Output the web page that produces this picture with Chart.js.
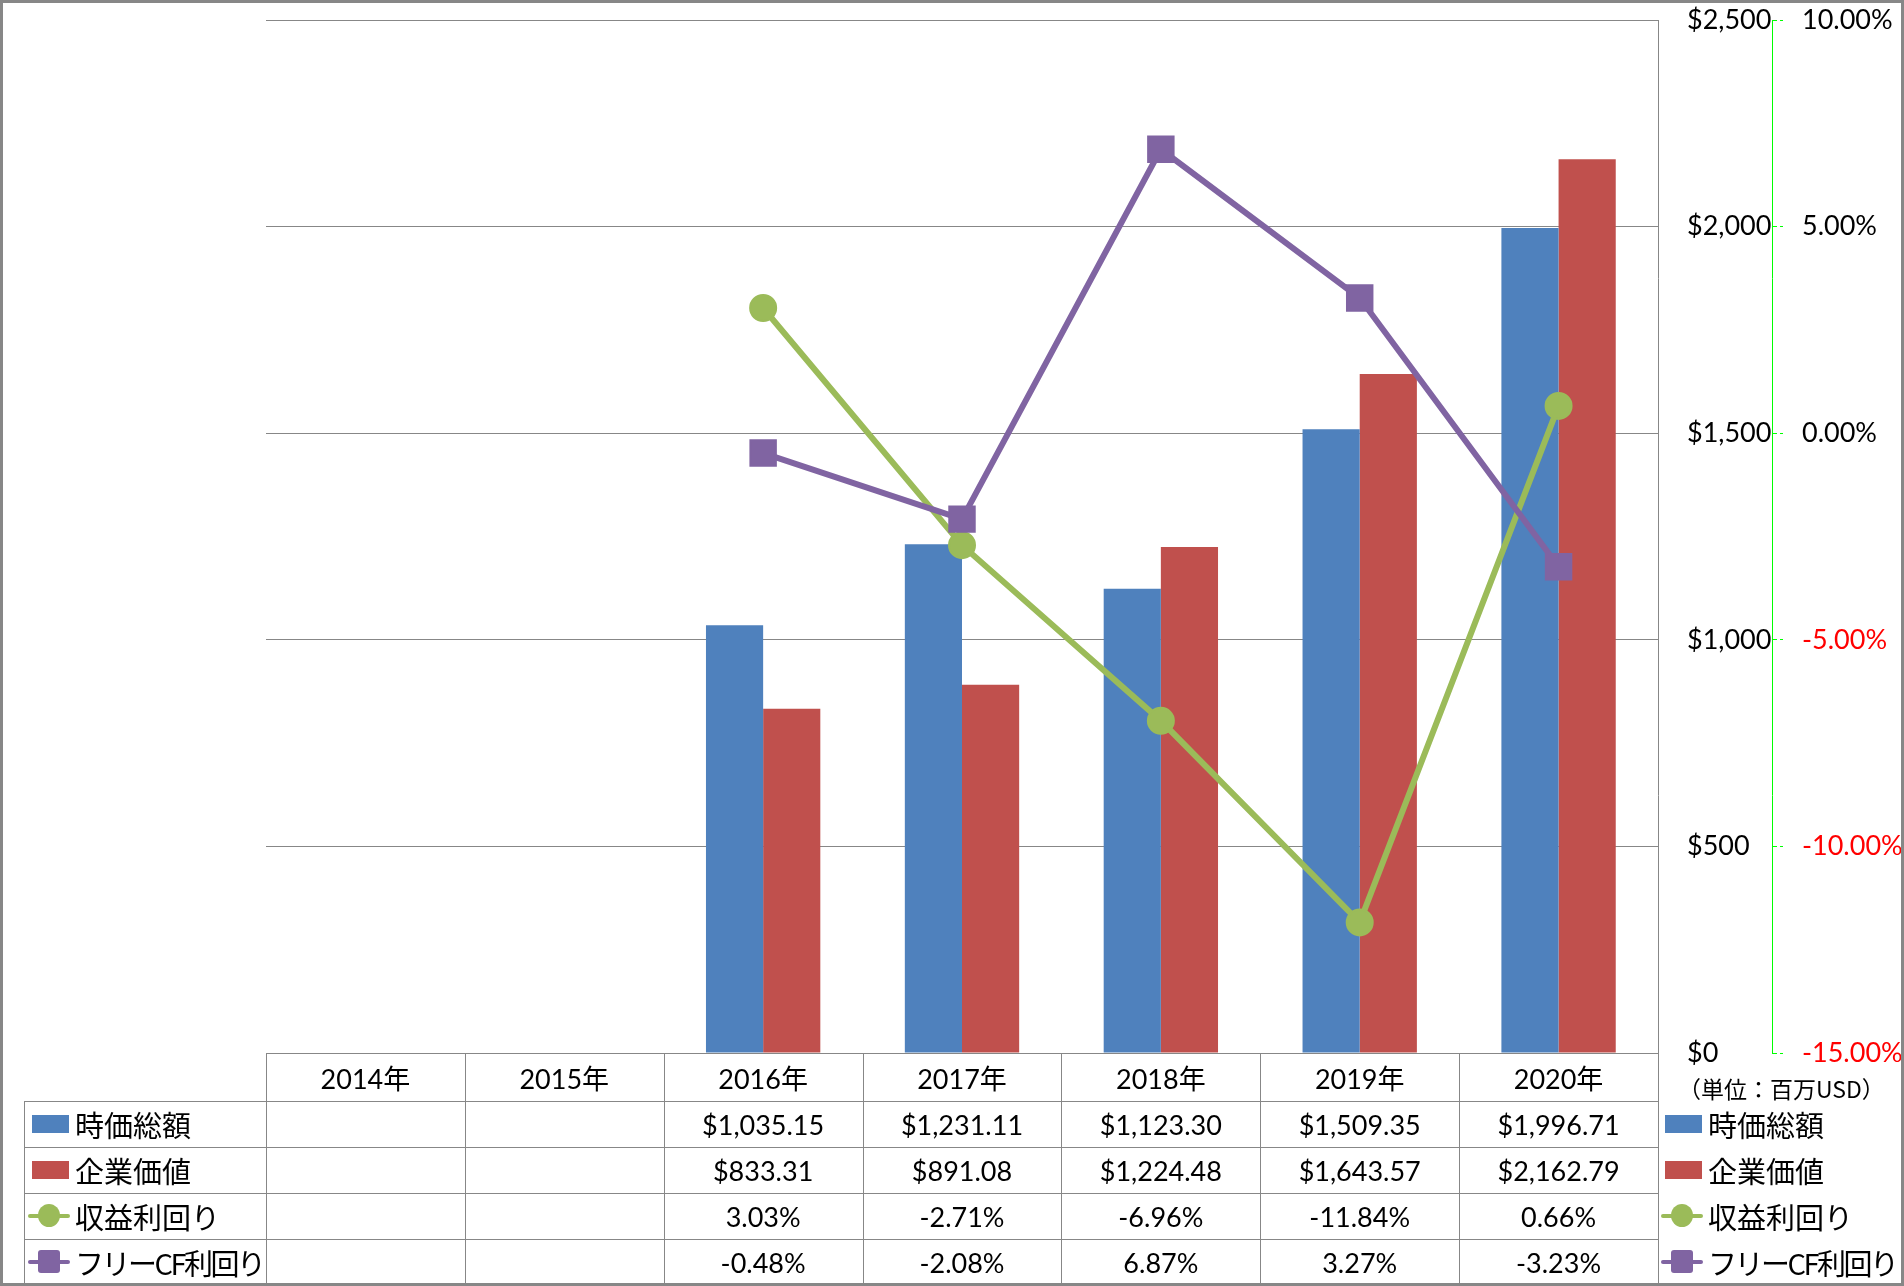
<!DOCTYPE html>
<html lang="ja">
<head>
<meta charset="utf-8">
<title>時価総額・企業価値・利回り</title>
<script src="https://cdn.jsdelivr.net/npm/chart.js@4.4.1/dist/chart.umd.min.js"></script>
<style>
  body { margin: 0; background: #fff; }
  #wrap { position: relative; width: 1904px; height: 1286px; overflow: hidden; font-family: Lato, "Noto Sans CJK JP", sans-serif; }
  #frame { position: absolute; left: 0; top: 0; width: 1904px; height: 1286px; box-sizing: border-box; border: 3px solid #878787; pointer-events: none; }
  canvas { position: absolute; left: 0; top: 0; }
  .ln { position: absolute; background: #878787; }
  .cell { position: absolute; display: flex; align-items: center; justify-content: center; font-size: 27px; color: #000; white-space: nowrap; }
  .lg { position: absolute; display: flex; align-items: center; font-family: "Noto Sans CJK JP", sans-serif; font-size: 29px; color: #000; white-space: nowrap; }
  .unit { position: absolute; font-family: "Noto Sans CJK JP", sans-serif; font-size: 23px; color: #000; white-space: nowrap; }
</style>
</head>
<body>
<div id="wrap">
  <canvas id="chart" width="1904" height="1286"></canvas>
  <div id="table"></div>
  <div id="frame"></div>
</div>
<script>
// data (null = no value that year)
const years = ["2014年", "2015年", "2016年", "2017年", "2018年", "2019年", "2020年"];
const marketCap = [null, null, 1035.15, 1231.11, 1123.30, 1509.35, 1996.71];
const enterpriseValue = [null, null, 833.31, 891.08, 1224.48, 1643.57, 2162.79];
const earningsYield = [null, null, 3.03, -2.71, -6.96, -11.84, 0.66];
const fcfYield = [null, null, -0.48, -2.08, 6.87, 3.27, -3.23];
const seriesNames = ["時価総額", "企業価値", "収益利回り", "フリーCF利回り"];
const usdTicks = [0, 500, 1000, 1500, 2000, 2500];
const pctTicks = [-15, -10, -5, 0, 5, 10];
const unitLabel = "（単位：百万USD）";

const colors = ["#4F81BD", "#C0504D", "#9BBB59", "#8064A2"];
const gridGray = "#878787";
const tickFont = { family: "Lato, 'Noto Sans CJK JP', sans-serif", size: 27 };

const money = (v) => "$" + v.toLocaleString("en-US", { minimumFractionDigits: 2, maximumFractionDigits: 2 });
const pct = (v) => v.toFixed(2) + "%";

// keep the axis label padding from pushing the plot down
const fitRight = (w) => (s) => { s.width = w; s.paddingTop = 0; s.paddingBottom = 0; };

const ctx = document.getElementById("chart").getContext("2d");
const chart = new Chart(ctx, {
  type: "bar",
  data: {
    labels: years,
    datasets: [
      {
        type: "line", label: seriesNames[3], data: fcfYield, yAxisID: "y1", order: 0,
        borderColor: colors[3], backgroundColor: colors[3], borderWidth: 6,
        pointStyle: "rect", pointRadius: 18, pointBorderWidth: 2,
        pointBackgroundColor: colors[3], pointBorderColor: colors[3], tension: 0,
      },
      {
        type: "line", label: seriesNames[2], data: earningsYield, yAxisID: "y1", order: 1,
        borderColor: colors[2], backgroundColor: colors[2], borderWidth: 6,
        pointStyle: "circle", pointRadius: 13, pointBorderWidth: 2,
        pointBackgroundColor: colors[2], pointBorderColor: colors[2], tension: 0,
      },
      {
        label: seriesNames[0], data: marketCap, yAxisID: "y", order: 2,
        backgroundColor: colors[0], categoryPercentage: 0.575, barPercentage: 1.0,
      },
      {
        label: seriesNames[1], data: enterpriseValue, yAxisID: "y", order: 2,
        backgroundColor: colors[1], categoryPercentage: 0.575, barPercentage: 1.0,
      },
    ],
  },
  options: {
    responsive: false,
    animation: false,
    devicePixelRatio: 1,
    layout: { padding: { left: 266, top: 19, right: 3, bottom: 233 } },
    plugins: { legend: { display: false }, tooltip: { enabled: false } },
    scales: {
      x: { display: false, offset: true, grid: { display: false } },
      y: {
        position: "right", weight: 0, min: 0, max: 2500,
        afterBuildTicks: (s) => { s.ticks = usdTicks.map((v) => ({ value: v })); },
        afterFit: fitRight(114),
        grid: { color: gridGray, lineWidth: 1, drawTicks: false },
        border: { display: true, color: gridGray, width: 1 },
        ticks: {
          crossAlign: "near", padding: 29, color: "#000", font: tickFont,
          callback: (v) => "$" + v.toLocaleString("en-US"),
        },
      },
      y1: {
        position: "right", weight: 1, min: -15, max: 10,
        afterBuildTicks: (s) => { s.ticks = pctTicks.map((v) => ({ value: v })); },
        afterFit: fitRight(129),
        grid: { drawOnChartArea: false, drawTicks: true, tickLength: 11, color: "#00FF00", tickBorderDash: [4, 3] },
        border: { display: true, color: "#00FF00", width: 1, dash: [4, 3] },
        ticks: {
          crossAlign: "near", padding: 19, font: tickFont,
          color: (c) => (c.tick && c.tick.value < 0 ? "#FF0000" : "#000"),
          callback: (v) => v.toFixed(2) + "%",
        },
      },
    },
  },
});

// data table under the plot, aligned to the category scale
const table = document.getElementById("table");
const area = chart.chartArea;
const colW = (area.right - area.left) / years.length;
const headTop = area.bottom;
const headH = 48;
const rowH = 46;
const labelLeft = 24;
const rows = [marketCap.map((v) => (v == null ? "" : money(v))),
              enterpriseValue.map((v) => (v == null ? "" : money(v))),
              earningsYield.map((v) => (v == null ? "" : pct(v))),
              fcfYield.map((v) => (v == null ? "" : pct(v)))];

function addLine(x, y, w, h) {
  const d = document.createElement("div");
  d.className = "ln";
  d.style.left = x + "px"; d.style.top = y + "px";
  d.style.width = w + "px"; d.style.height = h + "px";
  table.appendChild(d);
}
function addCell(x, y, w, h, text) {
  const d = document.createElement("div");
  d.className = "cell";
  d.style.left = x + "px"; d.style.top = y + "px";
  d.style.width = w + "px"; d.style.height = h + "px";
  d.textContent = text;
  table.appendChild(d);
}
function addLegend(x, yc, i) {
  const d = document.createElement("div");
  d.className = "lg";
  d.style.left = x + "px"; d.style.top = (yc - 20) + "px"; d.style.height = "40px";
  const key = document.createElement("div");
  key.style.position = "relative"; key.style.width = "42px"; key.style.height = "26px"; key.style.marginRight = "5px";
  if (i < 2) {
    const sw = document.createElement("div");
    sw.style.cssText = "position:absolute;left:4px;top:4px;width:37px;height:18px;background:" + colors[i];
    key.appendChild(sw);
  } else {
    const line = document.createElement("div");
    line.style.cssText = "position:absolute;left:0;top:11px;width:42px;height:4px;border-radius:2px;background:" + colors[i];
    const mk = document.createElement("div");
    const r = i === 2 ? "50%" : "3px";
    mk.style.cssText = "position:absolute;left:10px;top:1px;width:22px;height:23px;border-radius:" + r + ";background:" + colors[i];
    key.appendChild(line); key.appendChild(mk);
  }
  d.appendChild(key);
  const t = document.createElement("span");
  t.textContent = seriesNames[i];
  if (i === 3) t.style.letterSpacing = "-2.5px";
  d.appendChild(t);
  table.appendChild(d);
}

// header row
years.forEach((y, i) => addCell(area.left + i * colW, headTop, colW, headH, y));
rows.forEach((r, ri) => {
  const top = headTop + headH + ri * rowH;
  r.forEach((txt, i) => addCell(area.left + i * colW, top, colW, rowH, txt));
  addLegend(labelLeft + 4, top + rowH / 2, ri);
  addLegend(area.right + 3, top + rowH / 2, ri);
});

// grid lines of the table
addLine(area.left, headTop, area.right - area.left, 1);
for (let k = 0; k <= rows.length; k++) {
  addLine(labelLeft, headTop + headH + k * rowH, area.right - labelLeft, 1);
}
const tableBottom = headTop + headH + rows.length * rowH;
addLine(labelLeft, headTop + headH, 1, tableBottom - headTop - headH);
for (let i = 0; i <= years.length; i++) {
  addLine(Math.round(area.left + i * colW), headTop, 1, tableBottom - headTop);
}

// unit note under the value axis
const u = document.createElement("div");
u.className = "unit";
u.style.left = (area.right + 20) + "px";
u.style.top = (headTop + 18) + "px";
u.textContent = unitLabel;
table.appendChild(u);
</script>
</body>
</html>
